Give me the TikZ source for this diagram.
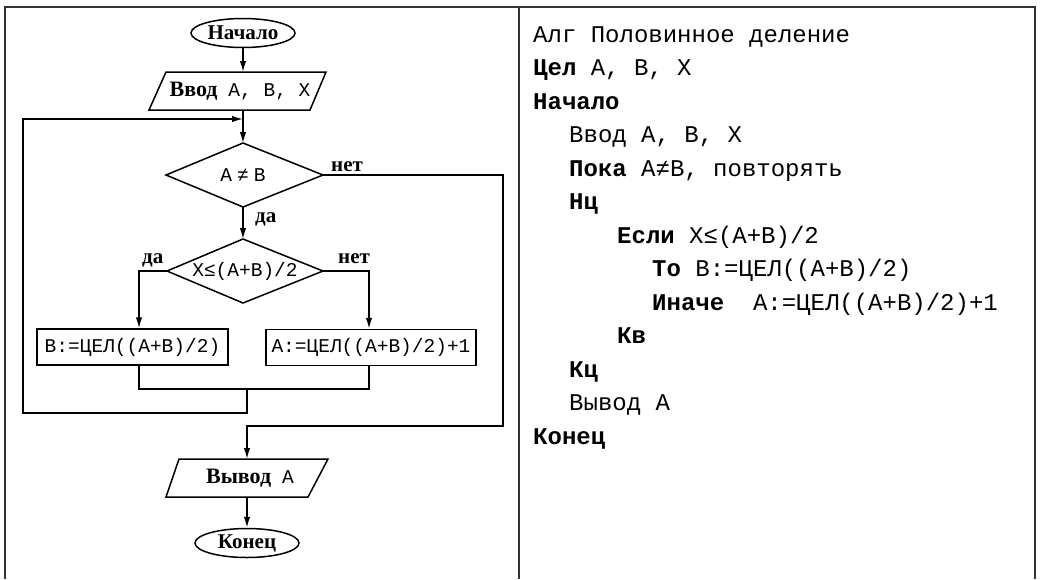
\documentclass[tikz,border=0pt]{standalone}
\usepackage{fontspec}
\setmainfont{Liberation Serif}
\newfontfamily\mono{Liberation Mono}
\usetikzlibrary{shapes.geometric,arrows.meta,calc}
\begin{document}
\begin{tikzpicture}[x=1pt,y=-1pt,
  line/.style={line width=1.5pt, black},
  arr/.style={line, -{Latex[length=11pt,width=6.5pt]}},
  term/.style={draw, line width=1.5pt, ellipse, inner sep=0pt, minimum width=104pt, minimum height=29pt, font=\fontsize{21}{21}\selectfont\bfseries},
  box/.style={draw, line width=1.5pt, rectangle, inner sep=0pt, minimum height=36pt, font=\fontsize{19.5}{20}\mono},
  txt/.style={inner sep=0pt},
  mtxt/.style={inner sep=0pt, font=\fontsize{19.5}{20}\mono},
  lbl/.style={inner sep=0pt, anchor=base west, font=\fontsize{21}{21}\selectfont\bfseries},
  code/.style={inner sep=0pt, anchor=base west, font=\fontsize{24}{24}\mono},
  frame/.style={line width=2pt, black!80}]
\useasboundingbox (0,0) rectangle (1040,579);
\fill[white] (0,0) rectangle (1040,579);
% frames
\draw[frame] (5,579) -- (5,7) -- (1035,7) -- (1035,579);
\draw[frame] (519,7) -- (519,579);

% start
\node[term] (start) at (243,33) {Начало};
% input
\coordinate (inTL) at (166,72);
\coordinate (inTR) at (326,72);
\coordinate (inBR) at (310,110);
\coordinate (inBL) at (149,110);
\coordinate (inN) at (243,72);
\coordinate (inS) at (243,110);
\draw[line] (inTL) -- (inTR) -- (inBR) -- (inBL) -- cycle;
\node[txt] (in) at (240,91) {\fontsize{22}{22}\selectfont\bfseries Ввод\ \ {\mono\mdseries\fontsize{19.5}{20}\selectfont A, B, X}};
\draw[arr] (start) -- (inN);

% diamond 1
\coordinate (d1N) at (243,143);
\coordinate (d1E) at (323,175);
\coordinate (d1S) at (243,207);
\coordinate (d1W) at (166,175);
\draw[line] (d1N) -- (d1E) -- (d1S) -- (d1W) -- cycle;
\node[mtxt] (d1) at (243,175) {A\hspace{5pt}≠\hspace{5pt}B};
\draw[arr] (inS) -- (d1N);
\node[lbl] (yes1) at (255,222) {да};
\node[lbl] (no1) at (331,171) {нет};

% diamond 2
\coordinate (d2N) at (243,239);
\coordinate (d2E) at (323,271);
\coordinate (d2S) at (243,303);
\coordinate (d2W) at (167,271);
\draw[line] (d2N) -- (d2E) -- (d2S) -- (d2W) -- cycle;
\node[mtxt] (d2) at (245,271) {X≤(A+B)/2};
\draw[arr] (d1S) -- (d2N);
\node[lbl] (yes2) at (142,263) {да};
\node[lbl] (no2) at (338,263) {нет};

% boxes
\node[box, minimum width=191pt] (bB) at (132.5,347) {B:=ЦЕЛ((A+B)/2)};
\node[box, minimum width=210pt] (bA) at (371,347.5) {A:=ЦЕЛ((A+B)/2)+1};
\coordinate (brL) at (139,271);
\coordinate (brR) at (369,271);
\draw[arr] (d2W) -- (brL) -- (bB.north -| brL);
\draw[arr] (d2E) -- (brR) -- (bA.north -| brR);

% join and loop
\coordinate (jL) at (139,389);
\coordinate (jR) at (369,389);
\coordinate (jM) at (247,389);
\coordinate (lpB) at (247,413);
\coordinate (lpBL) at (23,413);
\coordinate (lpTL) at (23,119);
\coordinate (lpIn) at (243,119);
\draw[line] (bB.south -| jL) -- (jL) -- (jR) -- (bA.south -| jR);
\draw[arr] (jM) -- (lpB) -- (lpBL) -- (lpTL) -- (lpIn);

% exit path
\coordinate (noR) at (503,175);
\coordinate (noBR) at (503,426);
\coordinate (noBL) at (247,426);
\coordinate (outN) at (247,459);
\draw[arr] (d1E) -- (noR) -- (noBR) -- (noBL) -- (outN);

% output
\coordinate (outTL) at (179,459);
\coordinate (outTR) at (328,459);
\coordinate (outBR) at (308,497);
\coordinate (outBL) at (166,497);
\coordinate (outS) at (247,497);
\draw[line] (outTL) -- (outTR) -- (outBR) -- (outBL) -- cycle;
\node[txt] (out) at (250,478) {\fontsize{22}{22}\selectfont\bfseries Вывод\ \ {\mono\mdseries\fontsize{19.5}{20}\selectfont A}};

% end
\node[term] (end) at (247,543) {Конец};
\draw[arr] (outS) -- (end);

% code panel
\node[code] (c0) at (533,42) {Алг Половинное деление};
\node[code] (c1) at (533,75.5) {\textbf{Цел} A, B, X};
\node[code] (c2) at (533,109) {\textbf{Начало}};
\node[code] (c3) at (569,142.5) {Ввод A, B, X};
\node[code] (c4) at (569,176) {\textbf{Пока} A≠B, повторять};
\node[code] (c5) at (569,209.5) {\textbf{Нц}};
\node[code] (c6) at (617,243) {\textbf{Если} X≤(A+B)/2};
\node[code] (c7) at (652,276.5) {\textbf{То} B:=ЦЕЛ((A+B)/2)};
\node[code] (c8) at (652,310) {\textbf{Иначе}\ \ A:=ЦЕЛ((A+B)/2)+1};
\node[code] (c9) at (617,343.5) {\textbf{Кв}};
\node[code] (c10) at (569,377) {\textbf{Кц}};
\node[code] (c11) at (569,410.5) {Вывод A};
\node[code] (c12) at (533,444) {\textbf{Конец}};
\end{tikzpicture}
\end{document}
